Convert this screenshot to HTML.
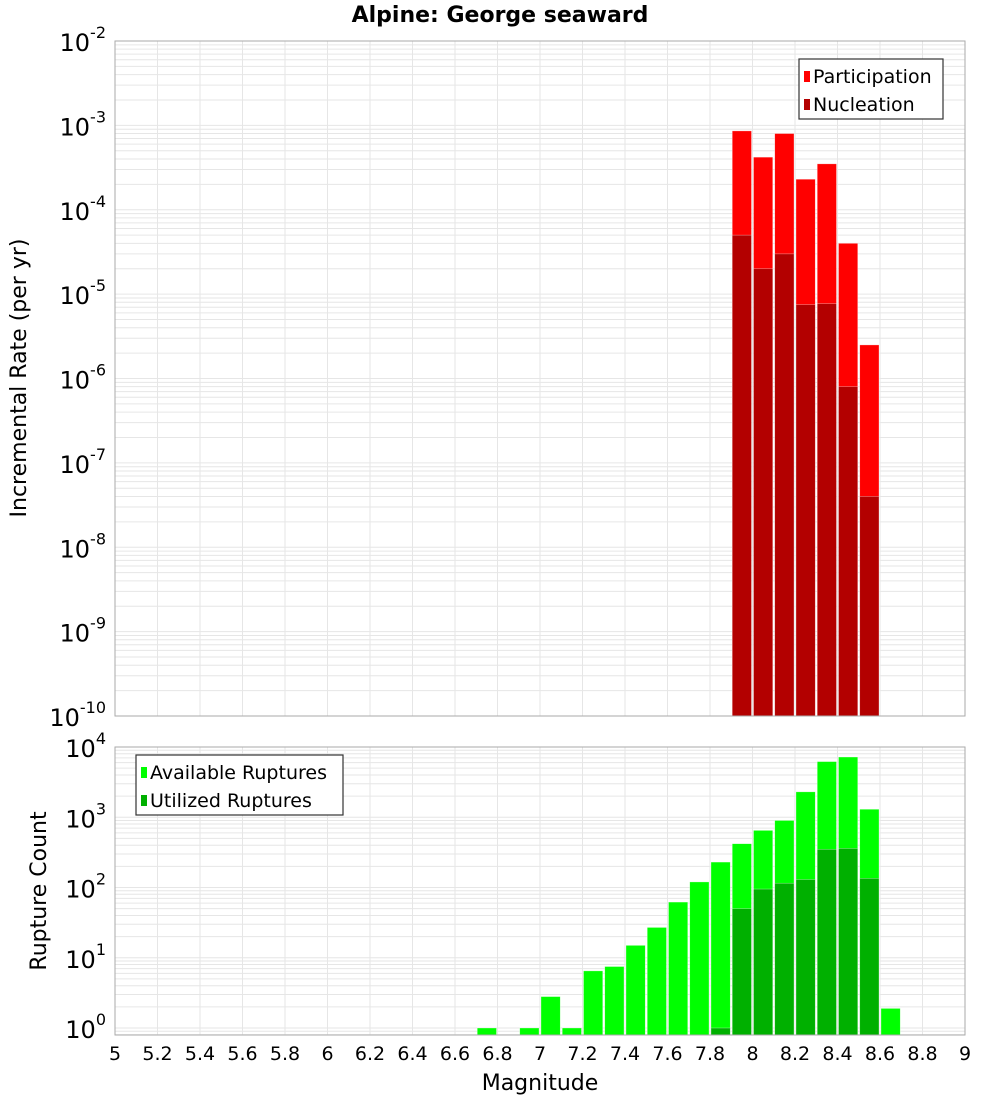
<!DOCTYPE html>
<html><head><meta charset="utf-8"><style>
body{margin:0;background:#fff;}
svg{font-family:"DejaVu Sans","Liberation Sans",sans-serif;}
</style></head><body>
<svg id="c" width="1000" height="1100" xmlns="http://www.w3.org/2000/svg">
<text x="500" y="22" text-anchor="middle" font-size="22" font-weight="bold">Alpine: George seaward</text>
<g id="topPanel"></g>
<g id="botPanel"></g>
<text transform="translate(26,378) rotate(-90)" text-anchor="middle" font-size="22">Incremental Rate (per yr)</text>
<text transform="translate(46,891) rotate(-90)" text-anchor="middle" font-size="22">Rupture Count</text>
<text x="540" y="1090" text-anchor="middle" font-size="22">Magnitude</text>
</svg>
<script>
const partBins=[7.95,8.05,8.15,8.25,8.35,8.45,8.55];
const partVals=[8.6e-4,4.2e-4,8e-4,2.3e-4,3.5e-4,4e-5,2.5e-6];
const nuclVals=[5e-5,2e-5,3e-5,7.5e-6,7.7e-6,8e-7,4e-8];
const availBins=[6.75,6.95,7.05,7.15,7.25,7.35,7.45,7.55,7.65,7.75,7.85,7.95,8.05,8.15,8.25,8.35,8.45,8.55,8.65];
const availVals=[1,1,2.8,1,6.5,7.5,15,27,62,120,230,420,650,900,2300,6200,7200,1300,1.9];
const utilBins=[7.85,7.95,8.05,8.15,8.25,8.35,8.45,8.55];
const utilVals=[1,50,95,115,130,350,360,135];
const xTicks=[5,5.2,5.4,5.6,5.8,6,6.2,6.4,6.6,6.8,7,7.2,7.4,7.6,7.8,8,8.2,8.4,8.6,8.8,9];
const topExps=[-10,-9,-8,-7,-6,-5,-4,-3,-2];
const botExps=[0,1,2,3,4];

const NS="http://www.w3.org/2000/svg";
const X0=115,X1=965;
const xs=m=>X0+(m-5)/4*(X1-X0);
function mk(p,tag,a){const e=document.createElementNS(NS,tag);for(const k in a)e.setAttribute(k,a[k]);p.appendChild(e);return e;}
function panel(g,y0,y1,lmin,lmax,exps,name){
  const ys=v=>y1-(Math.log10(v)-lmin)/(lmax-lmin)*(y1-y0);
  for(let d=Math.floor(lmin);d<lmax;d++)for(let k=1;k<10;k++){const v=k*Math.pow(10,d);const l=Math.log10(v);if(l<lmin||l>lmax)continue;
    const y=ys(v);const ln=mk(g,'line',{x1:X0,x2:X1,y1:y,y2:y,stroke:'#e6e6e6','stroke-width':1});
    
    }
  xTicks.forEach(t=>{const x=xs(t);const ln=mk(g,'line',{x1:x,x2:x,y1:y0,y2:y1,stroke:'#e6e6e6'});
    
    });
  exps.forEach(e=>{const y=ys(Math.pow(10,e));const t=mk(g,'text',{x:106,y:y+10,'text-anchor':'end','font-size':24});
    t.textContent='10';const s=mk(t,'tspan',{dy:-13,'font-size':16});s.textContent=String(e);
    
    });
  return ys;
}
function bars(g,ys,bins,vals,col,y1,name){
  bins.forEach((b,i)=>{const xa=xs(b-0.05)+1,xb=xs(b+0.05)-1;const y=ys(vals[i]);
    const r=mk(g,'rect',{x:xa,y:y,width:xb-xa,height:y1-y,fill:col,stroke:'#ffffff','stroke-opacity':0.5,'stroke-width':0.6});
    
    });
}
function legend(g,x,y,w,items,name){
  const b=mk(g,'rect',{x:x,y:y,width:w,height:60,fill:'#fff',stroke:'#333','stroke-width':1.2});
  
  
  items.forEach((it,i)=>{const cy=y+17+i*28;mk(g,'rect',{x:x+5,y:cy-5,width:6,height:11,fill:it[1]});
    const t=mk(g,'text',{x:x+14,y:cy+7,'font-size':19});t.textContent=it[0];
    
    });
}
const topG=document.getElementById('topPanel'),botG=document.getElementById('botPanel');
const T0=41,T1=716;
const ysT=panel(topG,T0,T1,-10,-2,topExps,'top');
bars(topG,ysT,partBins,partVals,'#ff0000',T1,'participation-bar');
bars(topG,ysT,partBins,nuclVals,'#b30000',T1,'nucleation-bar');
mk(topG,'rect',{x:X0,y:T0,width:X1-X0,height:T1-T0,fill:'none',stroke:'#aaa'});
legend(topG,799,59,144,[['Participation','#ff0000'],['Nucleation','#b30000']],'top-legend');

const B0=747,B1=1035;
const decB=(1028-747)/4;
const ysB=panel(botG,B0,B1,-(B1-1028)/decB,4,botExps,'bottom');
bars(botG,ysB,availBins,availVals,'#00ff00',B1,'available-bar');
bars(botG,ysB,utilBins,utilVals,'#00b000',B1,'utilized-bar');
mk(botG,'rect',{x:X0,y:B0,width:X1-X0,height:B1-B0,fill:'none',stroke:'#aaa'});
legend(botG,136,755,207,[['Available Ruptures','#00ff00'],['Utilized Ruptures','#00b000']],'bottom-legend');
xTicks.forEach(t=>{const e=mk(botG,'text',{x:xs(t),y:1060,'text-anchor':'middle','font-size':19});e.textContent=String(t);
  
  });
</script>
</body></html>
